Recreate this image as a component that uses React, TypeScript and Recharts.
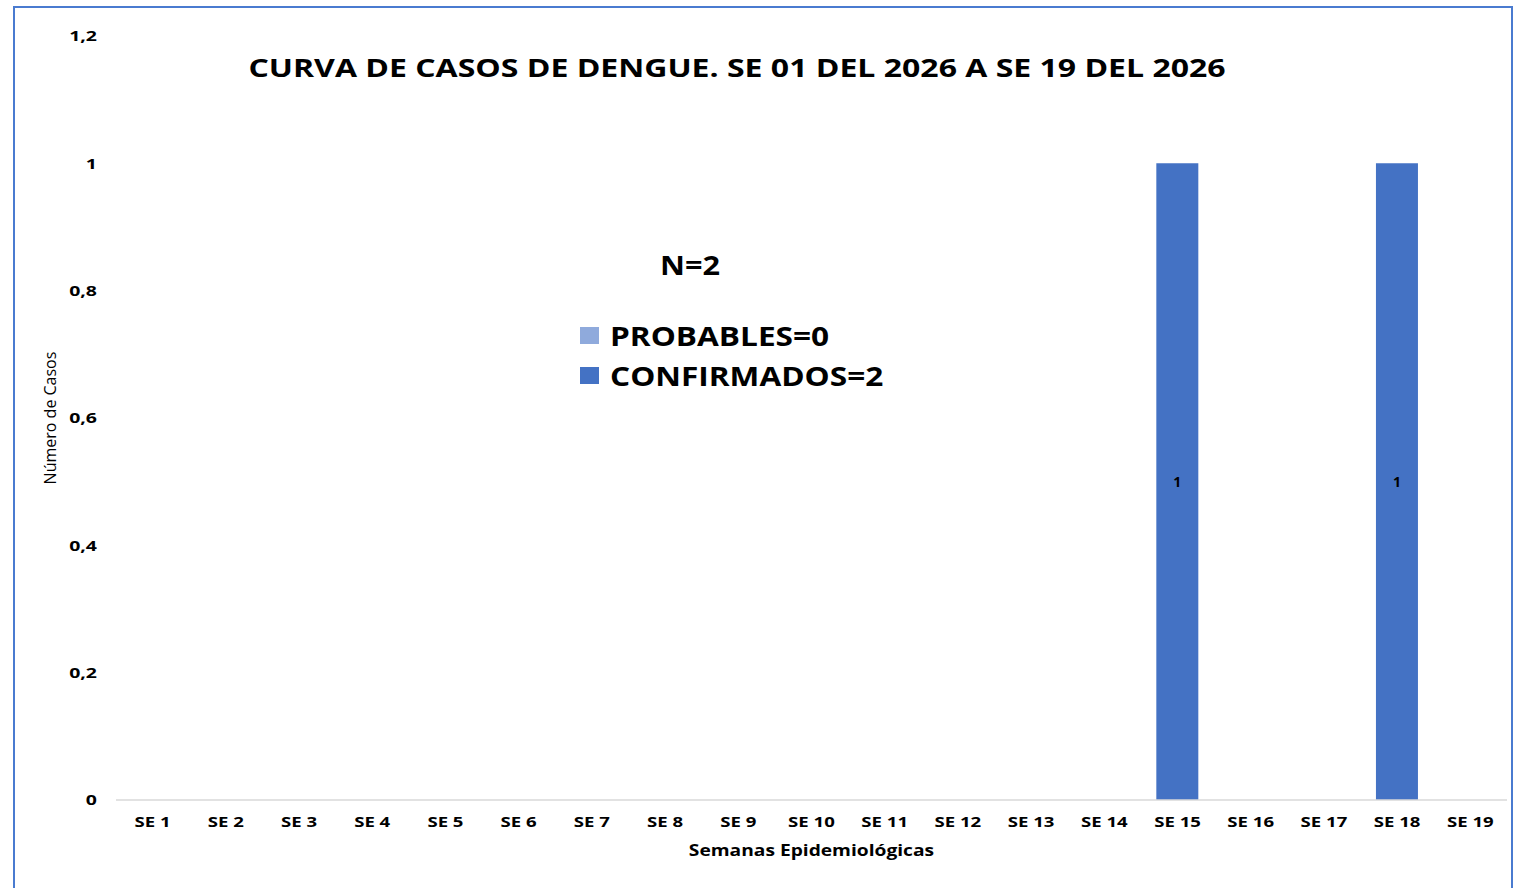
import React from 'react';
import { BarChart, Bar, XAxis, YAxis, Legend, LabelList } from 'recharts';

// Semanas epidemiológicas 2026
const weeks = [
  'SE 1', 'SE 2', 'SE 3', 'SE 4', 'SE 5', 'SE 6', 'SE 7', 'SE 8', 'SE 9', 'SE 10',
  'SE 11', 'SE 12', 'SE 13', 'SE 14', 'SE 15', 'SE 16', 'SE 17', 'SE 18', 'SE 19',
];
const probables = [0, 0, 0, 0, 0, 0, 0, 0, 0, 0, 0, 0, 0, 0, 0, 0, 0, 0, 0];
const confirmados = [0, 0, 0, 0, 0, 0, 0, 0, 0, 0, 0, 0, 0, 0, 1, 0, 0, 1, 0];
const yTicks = [0, 0.2, 0.4, 0.6, 0.8, 1, 1.2];
const legendOrder = ['probables', 'confirmados'];

const FONT = '"Open Sans", sans-serif';

const chartData = weeks.map((week, i) => ({
  week,
  probables: probables[i],
  confirmados: confirmados[i],
}));

const totalProbables = probables.reduce((a, b) => a + b, 0);
const totalConfirmados = confirmados.reduce((a, b) => a + b, 0);

// the source image is stretched horizontally, so widen the glyphs a bit
const stretch = (sx: number, origin: string) => ({
  transformBox: 'fill-box' as const,
  transformOrigin: origin,
  transform: `scaleX(${sx})`,
});

const LegendBox = (props: any) => {
  const items = [...(props.payload || [])].sort(
    (a: any, b: any) => legendOrder.indexOf(a.dataKey) - legendOrder.indexOf(b.dataKey)
  );
  return (
    <div style={{ fontFamily: FONT, fontWeight: 700, color: '#000' }}>
      <div style={{ fontSize: 26, marginLeft: 80, marginBottom: 33, lineHeight: '34px' }}>
        <span style={{ display: 'inline-block', transform: 'scaleX(1.18)', transformOrigin: '0 0' }}>
          N={totalProbables + totalConfirmados}
        </span>
      </div>
      {items.map((item: any) => (
        <div key={item.value} style={{ display: 'flex', alignItems: 'center', height: 40 }}>
          <span style={{ width: 19, height: 17, background: item.color, display: 'inline-block', marginRight: 11 }} />
          <span style={{ fontSize: 27, display: 'inline-block', transform: 'scaleX(1.17)', transformOrigin: '0 0', whiteSpace: 'nowrap' }}>
            {item.value}={item.dataKey === 'probables' ? totalProbables : totalConfirmados}
          </span>
        </div>
      ))}
    </div>
  );
};

export default function App() {
  return (
    <div style={{ position: 'absolute', left: 0, top: 0, width: 1517, height: 888, background: '#fff', overflow: 'hidden' }}>
      <div style={{ position: 'absolute', left: 13, top: 6, width: 1496, height: 900, border: '2px solid #4a7bd0' }} />
      <div
        style={{
          position: 'absolute', left: 0, top: 49, width: 1474, textAlign: 'center',
          fontFamily: FONT, fontWeight: 700, fontSize: 25, lineHeight: '36px', color: '#000',
          transform: 'scaleX(1.28)', transformOrigin: '737px 0',
        }}
      >
        CURVA DE CASOS DE DENGUE. SE 01 DEL 2026 A SE 19 DEL 2026
      </div>
      <div style={{ position: 'absolute', left: 0, top: 0 }}>
        <BarChart
          width={1517}
          height={888}
          data={chartData}
          margin={{ top: 36, right: 10, left: 0, bottom: 28 }}
          barCategoryGap="21%"
        >
          <XAxis
            dataKey="week"
            height={60}
            tickLine={false}
            tickSize={0}
            tickMargin={16}
            axisLine={{ stroke: '#d9d9d9', strokeWidth: 1.5 }}
            tick={{ fontFamily: FONT, fontWeight: 700, fontSize: 15, fill: '#000', style: stretch(1.24, '50% 50%') }}
            interval={0}
            label={{
              value: 'Semanas Epidemiológicas',
              position: 'insideBottom',
              offset: 4,
              style: { fontFamily: FONT, fontWeight: 700, fontSize: 16, fill: '#000', ...stretch(1.2, '50% 50%') },
            }}
          />
          <YAxis
            width={116}
            domain={[0, 1.2]}
            ticks={yTicks}
            axisLine={false}
            tickLine={false}
            tickSize={0}
            tickMargin={19}
            tickFormatter={(v: number) => String(v).replace('.', ',')}
            tick={{ fontFamily: FONT, fontWeight: 700, fontSize: 15, fill: '#000', style: stretch(1.3, '100% 50%') }}
            label={{
              value: 'Número de Casos',
              angle: -90,
              position: 'insideLeft',
              offset: 50,
              style: { textAnchor: 'middle', fontFamily: FONT, fontSize: 16, fill: '#000' },
            }}
          />
          <Legend
            layout="horizontal"
            verticalAlign="middle"
            align="center"
            content={<LegendBox />}
            wrapperStyle={{ left: 580, top: 248, width: 400 }}
          />
          <Bar dataKey="probables" name="PROBABLES" stackId="a" fill="#8faadc" isAnimationActive={false} />
          <Bar dataKey="confirmados" name="CONFIRMADOS" stackId="a" fill="#4472c4" isAnimationActive={false}>
            <LabelList
              dataKey="confirmados"
              position="center"
              formatter={(v: any) => (v > 0 ? v : '')}
              style={{ fontFamily: FONT, fontWeight: 700, fontSize: 14, fill: '#000' }}
            />
          </Bar>
        </BarChart>
      </div>
    </div>
  );
}
